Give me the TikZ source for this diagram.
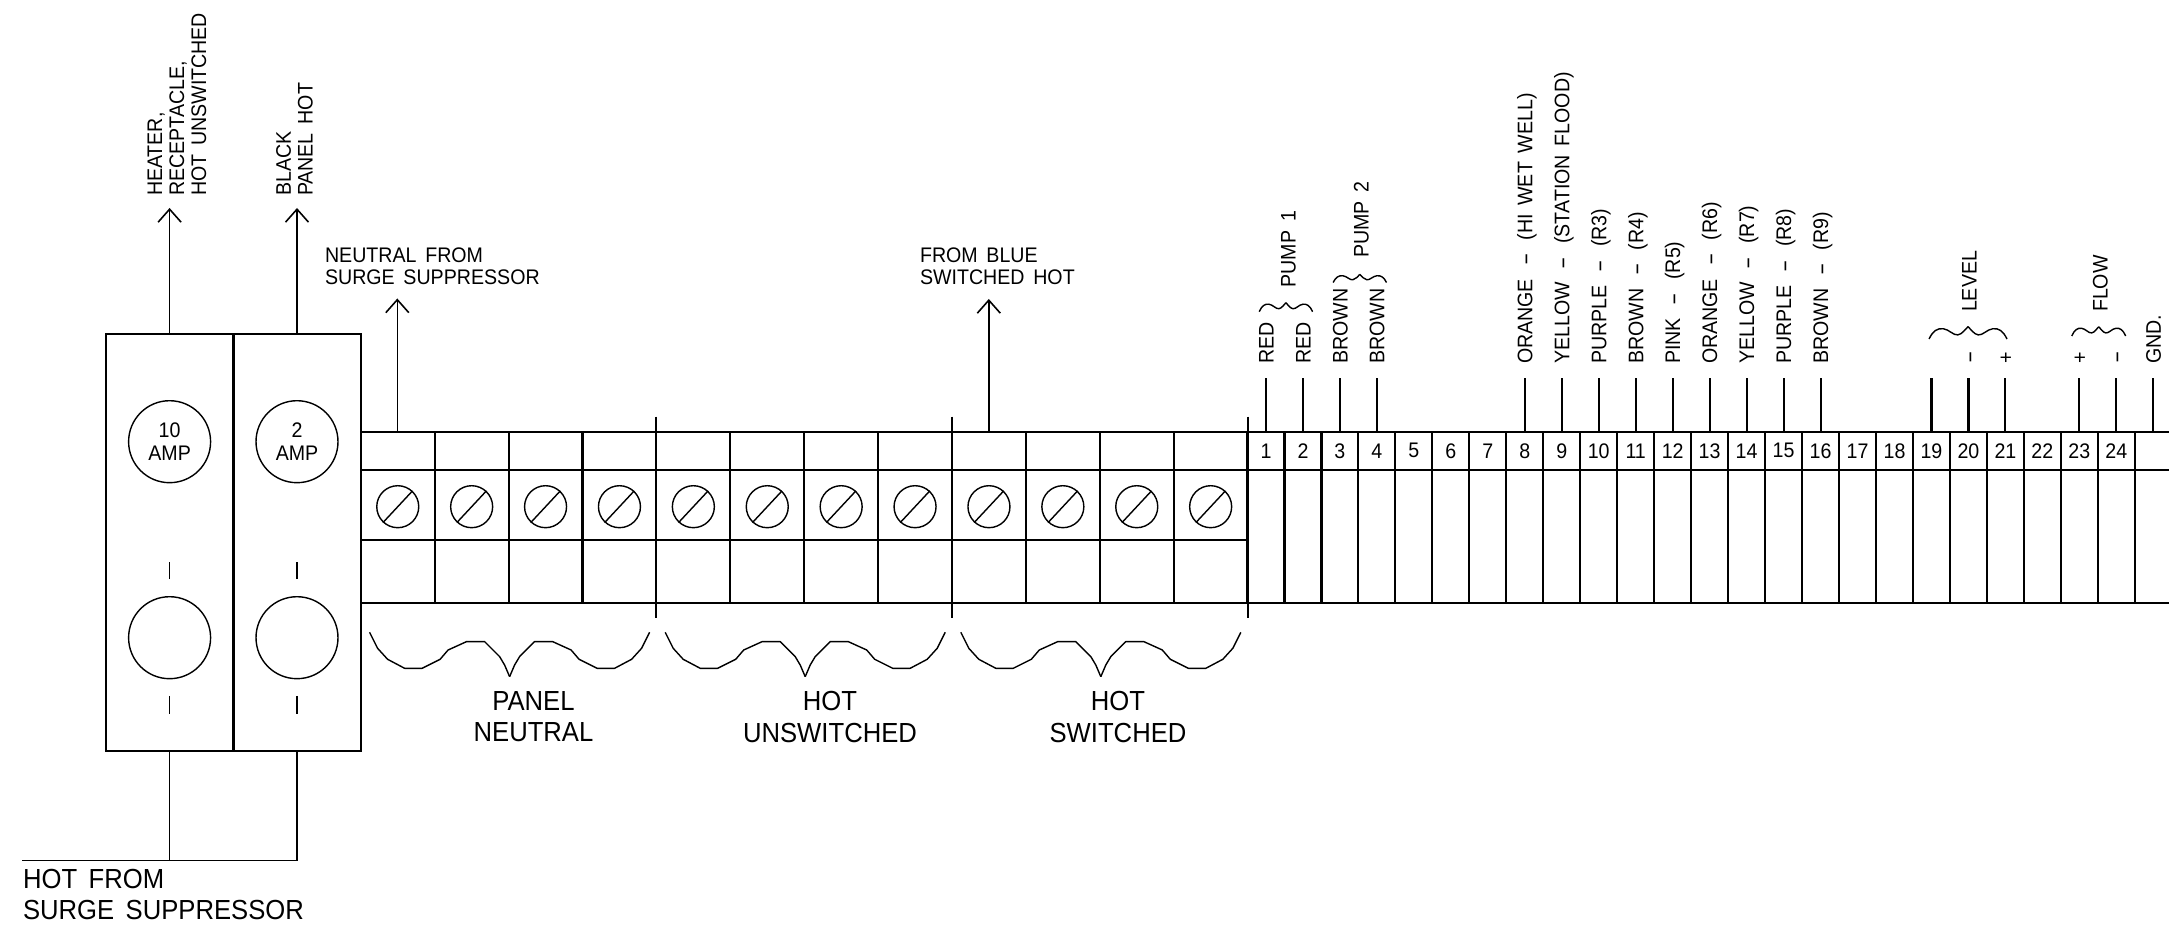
\documentclass[tikz,border=0pt]{standalone}
\usepackage{fontspec}
\setmainfont{Liberation Sans}[FakeStretch=0.93,WordSpace=1.6]
\usetikzlibrary{arrows.meta}
\newcommand\longbar{\scalebox{1.9}[1]{-}}
\newcommand\wbar{\hspace{.62em}\longbar\hspace{.62em}}
\tikzset{pics/curly/.style={code={
	\foreach \m in {1,-1}
		\draw [xscale=\m, line width=.8pt, line join=round] (-140,0) -- (-132,16) -- (-122,27) -- (-105,36) -- (-87.5,36) -- (-69.5,27) -- (-61.5,17.7) -- (-43,9.3) -- (-25,9.3) -- (-10,24.3) -- (-5,32.7) -- (0,44.4);
}}}
\tikzset{pics/wavy/.style={code={
	\foreach \m in {1,-1}
		\draw [xscale=\m, line width=.8pt, line join=round] (-26.7,0) .. controls (-24,-6) and (-21,-8) .. (-17,-7.5) .. controls (-13,-7) and (-10,-2.5) .. (-7,-3) .. controls (-4,-3.5) and (-2,-7) .. (0,-9);
}}}
\begin{document}
\begin{tikzpicture}[x=.02cm, y=-.02cm, line width=1.2pt,
	lab/.style={inner sep=0, align=left, font=\fontsize{12}{12.5}\selectfont},
	vlab/.style={lab, rotate=90, anchor=west},
	wirelab/.style={vlab, text height=8.6pt, text depth=0pt},
	biglab/.style={inner sep=0, align=center, font=\fontsize{15.7}{17.7}\selectfont},
	wireup/.style={-{Straight Barb[length=.26cm, width=.46cm]}, line width=.9pt},
	thinline/.style={line width=.8pt},
	brk/.style={draw, inner sep=0, outer sep=0, minimum width=2.55cm, minimum height=8.34cm},
	amp/.style={draw, circle, thinline, inner sep=0, minimum size=1.64cm, align=center, font=\fontsize{12}{13}\selectfont},
	screw/.style={draw, circle, thinline, inner sep=0, minimum size=.84cm},
	numcell/.style={draw, inner sep=0, outer sep=0, minimum width=.7394cm, minimum height=.766cm, font=\fontsize{12}{13}\selectfont}]
	\useasboundingbox (0,0) rectangle (2169,925);

	\node[brk] (brkA) at (169.75,542.5) {};
	\node[brk] (brkB) at (297.25,542.5) {};
	\node[amp] (ampA) at (169.6,441.7) {10\\AMP};
	\node[amp] (ampB) at (297,441.7) {2\\AMP};
	\node[amp] (lampA) at (169.6,637.7) {};
	\node[amp] (lampB) at (297,637.7) {};
	\foreach \c in {A,B} {
		\path (lamp\c.north) ++(0,-17) coordinate (ta\c) ++(0,-17.5) coordinate (tb\c);
		\draw [thinline] (ta\c) -- (tb\c);
		\path (lamp\c.south) ++(0,16.5) coordinate (tc\c) ++(0,18) coordinate (td\c);
		\draw [thinline] (tc\c) -- (td\c);
	}

	\coordinate (arrA) at (169.6,208);
	\coordinate (arrB) at (297,208);
	\coordinate (arrN) at (397.3,298.5);
	\coordinate (arrS) at (988.8,299);
	\draw [wireup] (ampA |- brkA.north) -- (arrA);
	\draw [wireup] (ampB |- brkB.north) -- (arrB);
	\draw [wireup] (397.3,431.7) -- (arrN);
	\draw [wireup] (988.8,431.7) -- (arrS);
	\node[vlab] (lblHeater) at (177,197) {HEATER,\\RECEPTACLE,\\HOT UNSWITCHED};
	\node[vlab] (lblBlack) at (294.5,197) {BLACK\\PANEL HOT};
	\node[lab, anchor=north west] (lblNeutral) at (324,247) {NEUTRAL FROM\\SURGE SUPPRESSOR};
	\node[lab, anchor=north west] (lblBlue) at (919,247) {FROM BLUE\\SWITCHED HOT};

	\coordinate (hotL) at (22,860.7);
	\coordinate (hotA) at (169.6,860.7);
	\coordinate (hotB) at (297,860.7);
	\draw [thinline] (hotL) -- (hotB) -- (ampB |- brkB.south);
	\draw [thinline] (hotA) -- (ampA |- brkA.south);
	\node[biglab, align=left, anchor=north west] (lblHot) at (22,868) {HOT FROM\\SURGE SUPPRESSOR};

	\draw (361,431.7) -- (2169,431.7);
	\draw (361,470) -- (2169,470);
	\draw (361,540.3) -- (1247.6,540.3);
	\draw (361,602.6) -- (2169,602.6);
	\foreach \i in {1,2,3,5,6,7,9,10,11}
		\draw (360.8+73.9*\i,431.7) -- (360.8+73.9*\i,602.6);
	\foreach \i in {4,8,12}
		\draw (360.8+73.9*\i,416.7) -- (360.8+73.9*\i,618.3);
	\foreach \i in {0,...,11} {
		\node[screw] (sc\i) at (360.8+73.9*\i+36.95,506.7) {};
		\draw [thinline] (sc\i.227) -- (sc\i.47);
	}
	\pic at (509.6,632.3) {curly};
	\pic at (805.2,632.3) {curly};
	\pic at (1100.8,632.3) {curly};
	\node[biglab] (lblPanel) at (533.5,717) {PANEL\\NEUTRAL};
	\node[biglab] (lblUnsw) at (830,717) {HOT\\UNSWITCHED};
	\node[biglab] (lblSw) at (1118,717) {HOT\\SWITCHED};

	\foreach \i in {1,...,24}
		\node[numcell] (n\i) at (1247.5+36.97*\i-18.485,450.85) {\i};
	\node[numcell, draw=none] (n25) at (1247.5+36.97*24+18.485,450.85) {};
	\foreach \i in {0,...,24}
		\draw (1247.5+36.97*\i,470) -- (1247.5+36.97*\i,602.6);
	\foreach \i/\t in {1/RED, 2/RED, 3/BROWN, 4/BROWN, 8/ORANGE\wbar(HI WET WELL), 9/YELLOW\wbar(STATION FLOOD), 10/PURPLE\wbar(R3), 11/BROWN\wbar(R4), 12/PINK\wbar(R5), 13/ORANGE\wbar(R6), 14/YELLOW\wbar(R7), 15/PURPLE\wbar(R8), 16/BROWN\wbar(R9), 19/, 20/\longbar, 21/+, 23/+, 24/\longbar, 25/GND.} {
		\coordinate (wt\i) at (1247.5+36.97*\i-18.485,378.3);
		\draw (n\i.north) -- (wt\i);
		\node[wirelab] (wl\i) at (1247.5+36.97*\i-18.485,365) {\t};
	}

	\pic at (1285.9,311.7) {wavy};
	\pic[yscale=.9] at (1359.8,282.5) {wavy};
	\pic[xscale=1.46, yscale=1.37] at (1968,339) {wavy};
	\pic[xscale=1.01, yscale=1.03] at (2098.7,336) {wavy};
	\node[wirelab] (lblP1) at (1288,288.3) {PUMP 1};
	\node[wirelab] (lblP2) at (1361,259) {PUMP 2};
	\node[wirelab] (lblLevel) at (1969,313) {LEVEL};
	\node[wirelab] (lblFlow) at (2100,313) {FLOW};
\end{tikzpicture}
\end{document}
